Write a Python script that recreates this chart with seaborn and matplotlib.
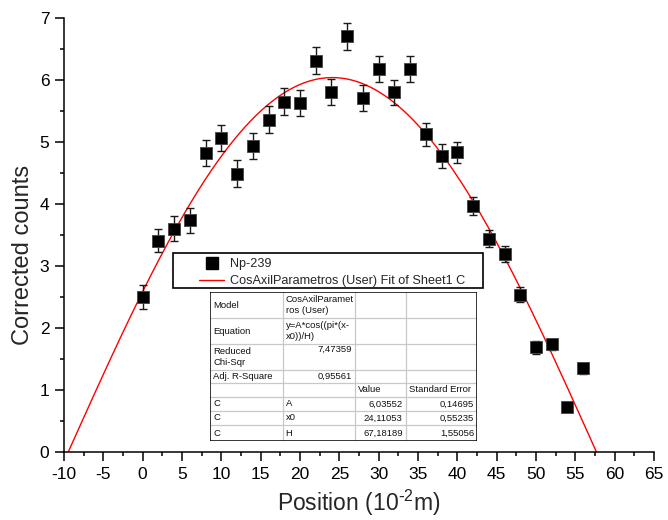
import numpy as np
import matplotlib
matplotlib.use("Agg")
import matplotlib.pyplot as plt
import seaborn as sns
from matplotlib.lines import Line2D
from matplotlib.patches import Rectangle

# measured points (position in 10^-2 m)
position = [0, 2, 4, 6, 8, 10, 12, 14, 16, 18, 20, 22, 24, 26, 28,
            30, 32, 34, 36, 38, 40, 42, 44, 46, 48, 50, 52, 54, 56]
counts = [2.50, 3.41, 3.60, 3.74, 4.82, 5.06, 4.49, 4.94, 5.36, 5.65,
          5.62, 6.31, 5.80, 6.70, 5.70, 6.18, 5.80, 6.17, 5.12, 4.77,
          4.83, 3.97, 3.44, 3.19, 2.54, 1.69, 1.74, 0.73, 1.35]
count_err = [0.19, 0.19, 0.20, 0.20, 0.21, 0.21, 0.21, 0.21, 0.21, 0.22,
             0.21, 0.22, 0.21, 0.22, 0.21, 0.21, 0.20, 0.21, 0.19, 0.19,
             0.17, 0.14, 0.14, 0.13, 0.12, 0.11, 0.09, 0.04, 0.09]

# fit results (Origin table)
param_names = ["A", "x0", "H"]
param_values = [6.03552, 24.11053, 67.18189]
param_errors = [0.14695, 0.55235, 1.55056]
reduced_chisqr = 7.47359
adj_r2 = 0.95561

x_ticks = list(range(-10, 70, 5))
y_ticks = list(range(0, 8))

sns.set_style("ticks")
plt.rcParams['font.family'] = ['Liberation Sans', 'DejaVu Sans']
plt.rcParams['mathtext.default'] = 'regular'
plt.rcParams['axes.unicode_minus'] = False

W, H_px = 668, 520
fig = plt.figure(figsize=(W / 100, H_px / 100), dpi=100)
ax = fig.add_axes([64 / W, 1 - 452.3 / H_px, 590 / W, 434.6 / H_px])

A, x0, Hw = param_values
x_fit = np.linspace(x0 - Hw / 2, x0 + Hw / 2, 400)
y_fit = A * np.cos(np.pi * (x_fit - x0) / Hw)
sns.lineplot(x=x_fit, y=y_fit, color='red', lw=1, ax=ax, estimator=None,
             sort=False, legend=False, zorder=2)

ax.errorbar(position, counts, yerr=count_err, fmt='none', ecolor='#1a1a1a',
            elinewidth=1, capsize=3.2, capthick=1, zorder=3)
sns.scatterplot(x=position, y=counts, marker='s', s=80, color='black',
                edgecolor='#444444', linewidth=0.6, ax=ax, legend=False, zorder=4)

ax.set_xlim(-10, 65)
ax.set_ylim(0, 7)
ax.set_xticks(x_ticks)
ax.set_yticks(y_ticks)
ax.set_xticks(np.arange(-7.5, 65, 5), minor=True)
ax.set_yticks(np.arange(0.5, 7, 1), minor=True)
ax.tick_params(which='major', direction='out', length=6.5, width=1.1,
               labelsize=12.5, pad=4, color='black', labelcolor='black')
ax.tick_params(which='minor', direction='out', length=3.2, width=1.1, color='black')
for side in ['left', 'bottom']:
    ax.spines[side].set_linewidth(1.1)
    ax.spines[side].set_color('black')
sns.despine(ax=ax)

ax.set_xlabel(r'Position (10$^{\text{-}2}$m)', fontsize=16.5, labelpad=4)
ax.set_ylabel('Corrected counts', fontsize=17)
ax.yaxis.set_label_coords(-0.05, 0.454)

# legend with its box
def fx(x):
    return x / W

def fy(y):
    return 1 - y / H_px

ax.add_patch(Rectangle((fx(173), fy(287.5)), fx(483) - fx(173), fy(253) - fy(287.5),
                       transform=fig.transFigure, facecolor='white', edgecolor='black',
                       lw=1.2, zorder=6, clip_on=False))
handles = [Line2D([], [], marker='s', ls='none', color='black', markersize=8),
           Line2D([], [], color='red', lw=1)]
labels = ['Np-239', 'CosAxilParametros (User) Fit of Sheet1 C']
leg = ax.legend(handles, labels, loc='upper left', bbox_to_anchor=(fx(199), fy(258)),
                bbox_transform=fig.transFigure, frameon=False, borderpad=0,
                borderaxespad=0, handlelength=2.0, handletextpad=0.45,
                labelspacing=0.42, fontsize=9.1)
leg.set_zorder(7)

# fit results table
col_x = [210, 282.7, 354.5, 405.7, 477.3]
row_y = [292, 318, 344, 370, 383, 397, 411, 425, 441]
tab = fig.add_axes([fx(col_x[0]), fy(row_y[-1]), fx(col_x[-1]) - fx(col_x[0]),
                    fy(row_y[0]) - fy(row_y[-1])], zorder=5)
tab.set_xlim(col_x[0], col_x[-1])
tab.set_ylim(row_y[-1], row_y[0])
tab.axis('off')
tab.add_patch(Rectangle((col_x[0], row_y[0]), col_x[-1] - col_x[0], row_y[-1] - row_y[0],
                        facecolor='white', edgecolor='none', zorder=0))
tab.hlines(row_y[1:-1], col_x[0], col_x[-1], color='#c8c8c8', lw=0.9, zorder=1)
tab.vlines(col_x[1:-1], row_y[0], row_y[-1], color='#c8c8c8', lw=0.9, zorder=1)
tab.add_patch(Rectangle((col_x[0], row_y[0]), col_x[-1] - col_x[0], row_y[-1] - row_y[0],
                        facecolor='none', edgecolor='black', lw=1.1, zorder=2))

def fmt(v):
    return f"{v:.5f}".replace('.', ',')

cells = [
    (0, 0, 'Model', 'left', 'center'),
    (0, 1, 'CosAxilParamet\nros (User)', 'left', 'center'),
    (1, 0, 'Equation', 'left', 'center'),
    (1, 1, 'y=A*cos((pi*(x-\nx0))/H)', 'left', 'center'),
    (2, 0, 'Reduced\nChi-Sqr', 'left', 'center'),
    (2, 1, fmt(reduced_chisqr), 'right', 'top'),
    (3, 0, 'Adj. R-Square', 'left', 'center'),
    (3, 1, fmt(adj_r2), 'right', 'center'),
    (4, 2, 'Value', 'left', 'center'),
    (4, 3, 'Standard Error', 'left', 'center'),
]
for i, name in enumerate(param_names):
    cells.append((5 + i, 0, 'C', 'left', 'center'))
    cells.append((5 + i, 1, name, 'left', 'center'))
    cells.append((5 + i, 2, fmt(param_values[i]), 'right', 'center'))
    cells.append((5 + i, 3, fmt(param_errors[i]), 'right', 'center'))

for r, c, txt, ha, va in cells:
    x = col_x[c] + 3 if ha == 'left' else col_x[c + 1] - 3
    if va == 'top':
        y = row_y[r] + 1
    else:
        y = (row_y[r] + row_y[r + 1]) / 2
    tab.text(x, y, txt, ha=ha, va=va, fontsize=6.8, linespacing=1.25,
             color='#111111', zorder=3)

fig.savefig('out.png', dpi=100)
